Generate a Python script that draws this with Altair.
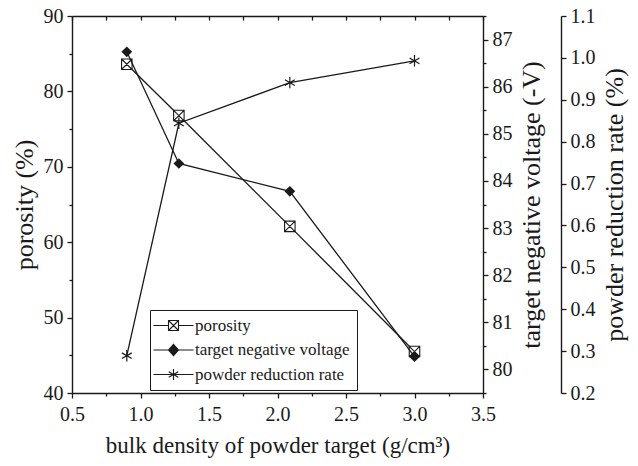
import altair as alt
import pandas as pd

# Measured series
density = [0.9, 1.28, 2.09, 3.0]
porosity = [83.6, 76.8, 62.1, 45.5]
voltage = [86.74, 84.37, 83.78, 80.27]
reduction = [0.289, 0.844, 0.941, 0.993]

series = ["porosity", "target negative voltage", "powder reduction rate"]

# Tick positions
x_ticks = [0.5, 1.0, 1.5, 2.0, 2.5, 3.0, 3.5]
x_minor = [0.75, 1.25, 1.75, 2.25, 2.75, 3.25]
x_top = sorted(x_ticks + x_minor)
por_ticks = [40, 50, 60, 70, 80, 90]
por_minor = [45, 55, 65, 75, 85]
volt_ticks = [80, 81, 82, 83, 84, 85, 86, 87]
volt_minor = [79.5, 80.5, 81.5, 82.5, 83.5, 84.5, 85.5, 86.5, 87.5]
rate_ticks = [0.2, 0.3, 0.4, 0.5, 0.6, 0.7, 0.8, 0.9, 1.0, 1.1]

W, H = 411, 377
FONT = "'Liberation Serif', 'Times New Roman', Times, serif"
INK = "#1a1a1a"

df = pd.DataFrame({
    "density": density,
    "porosity": porosity,
    "voltage": voltage,
    "reduction": reduction,
})
legend_df = pd.DataFrame({"series": series})

x_scale = alt.Scale(domain=[0.5, 3.5], nice=False, zero=False)
por_scale = alt.Scale(domain=[40, 90], nice=False, zero=False)
volt_scale = alt.Scale(domain=[79.5, 87.5], nice=False, zero=False)
rate_scale = alt.Scale(domain=[0.2, 1.1], nice=False, zero=False)


def axis(**kw):
    base = dict(
        grid=False, domainColor=INK, tickColor=INK, labelColor=INK, titleColor=INK,
        labelFont=FONT, titleFont=FONT, labelFontSize=20, titleFontSize=26,
        titleFontWeight="normal", domainWidth=1.4, tickWidth=1.3,
        labelFlush=False, labelOverlap=False,
    )
    base.update(kw)
    return alt.Axis(**base)


# Marker paths (unit square, scaled by size)
SQUARE_X = "M-1,-1H1V1H-1ZM-1,-1L1,1M1,-1L-1,1"
STAR = "M0,-1V1M-0.87,-0.5L0.87,0.5M-0.87,0.5L0.87,-0.5"
LEG_SQUARE = "M-4,0H-1M1,0H4M-1,-1H1V1H-1ZM-1,-1L1,1M1,-1L-1,1"
LEG_DIAMOND = "M-4,0H4M0,-1.15L1,0L0,1.15L-1,0Z"
LEG_STAR = "M-4,0H4M0,-1.1V1.1M-0.95,-0.55L0.95,0.55M-0.95,0.55L0.95,-0.55"

line_style = dict(color=INK, strokeWidth=1.3)

porosity_layer = alt.Chart(df).mark_line(
    **line_style,
    point=alt.OverlayMarkDef(shape=SQUARE_X, filled=True, fill="white",
                             stroke=INK, strokeWidth=1.1, size=110),
).encode(
    x=alt.X("density:Q", scale=x_scale,
            axis=axis(orient="bottom", values=x_ticks, tickSize=5, labelPadding=6,
                      format=".1f", title="bulk density of powder target (g/cm³)",
                      titleFontSize=23, titlePadding=10)),
    y=alt.Y("porosity:Q", scale=por_scale,
            axis=axis(orient="left", values=por_ticks, tickSize=5, labelPadding=4,
                      format="d", title="porosity (%)", titlePadding=6)),
)

voltage_layer = alt.Chart(df).mark_line(
    **line_style,
    point=alt.OverlayMarkDef(shape="diamond", filled=True, fill=INK, size=115),
).encode(
    x=alt.X("density:Q", scale=x_scale, axis=None),
    y=alt.Y("voltage:Q", scale=volt_scale,
            axis=axis(orient="right", values=volt_ticks, tickSize=5, labelPadding=4,
                      format="d", title="target negative voltage (-V)",
                      titleAngle=270, titleBaseline="top", titlePadding=6)),
)

rate_layer = alt.Chart(df).mark_line(
    **line_style,
    point=alt.OverlayMarkDef(shape=STAR, filled=False, stroke=INK,
                             strokeWidth=1.2, size=130),
).encode(
    x=alt.X("density:Q", scale=x_scale, axis=None),
    y=alt.Y("reduction:Q", scale=rate_scale,
            axis=axis(orient="right", offset=78, values=rate_ticks, tickSize=5,
                      labelPadding=4, format=".1f", title="powder reduction rate (%)",
                      titleAngle=270, titleBaseline="top", titlePadding=6)),
)

# Minor ticks on the bottom and left axes
minor_layer = alt.Chart(df).mark_point(opacity=0).encode(
    x=alt.X("density:Q", scale=x_scale,
            axis=axis(orient="bottom", values=x_minor, tickSize=3, labels=False,
                      domain=False, title="")),
    y=alt.Y("porosity:Q", scale=por_scale,
            axis=axis(orient="left", values=por_minor, tickSize=3, labels=False,
                      domain=False, title="")),
)

# Top frame edge with inward ticks, and minor ticks of the voltage axis
frame_layer = alt.Chart(df).mark_point(opacity=0).encode(
    x=alt.X("density:Q", scale=x_scale,
            axis=axis(orient="bottom", offset=-H, values=x_top, tickSize=4,
                      labels=False, title="")),
    y=alt.Y("voltage:Q", scale=volt_scale,
            axis=axis(orient="right", values=volt_minor, tickSize=3, labels=False,
                      domain=False, title="")),
)

leg = dict(
    orient="none", legendX=78, legendY=294, title=None,
    strokeColor=INK, fillColor="white", padding=7,
    labelFont=FONT, labelFontSize=17, labelColor=INK, labelOffset=13,
    symbolSize=100, symbolStrokeWidth=1.1, symbolOpacity=1, symbolOffset=8,
    rowPadding=6.5,
)
legend_layer = alt.Chart(legend_df).mark_point(
    filled=True, opacity=1, strokeWidth=1.1
).encode(
    x=alt.value(-1000),
    y=alt.value(-1000),
    shape=alt.Shape("series:N", sort=series,
                    scale=alt.Scale(domain=series, range=[LEG_SQUARE, LEG_DIAMOND, LEG_STAR]),
                    legend=alt.Legend(**leg)),
    fill=alt.Fill("series:N", sort=series,
                  scale=alt.Scale(domain=series, range=["white", INK, INK]),
                  legend=alt.Legend(**leg)),
    stroke=alt.Stroke("series:N", sort=series,
                      scale=alt.Scale(domain=series, range=[INK, INK, INK]),
                      legend=alt.Legend(**leg)),
)

chart = alt.layer(
    porosity_layer, voltage_layer, rate_layer, minor_layer, frame_layer, legend_layer
).resolve_scale(
    x="independent", y="independent"
).properties(
    width=W, height=H,
    padding={"left": 72, "top": 16, "right": 155, "bottom": 73},
    autosize=alt.AutoSizeParams(type="none"),
    background="white",
).configure_view(stroke=None)

chart.save("out.html", embed_options={"renderer": "svg", "actions": False})
